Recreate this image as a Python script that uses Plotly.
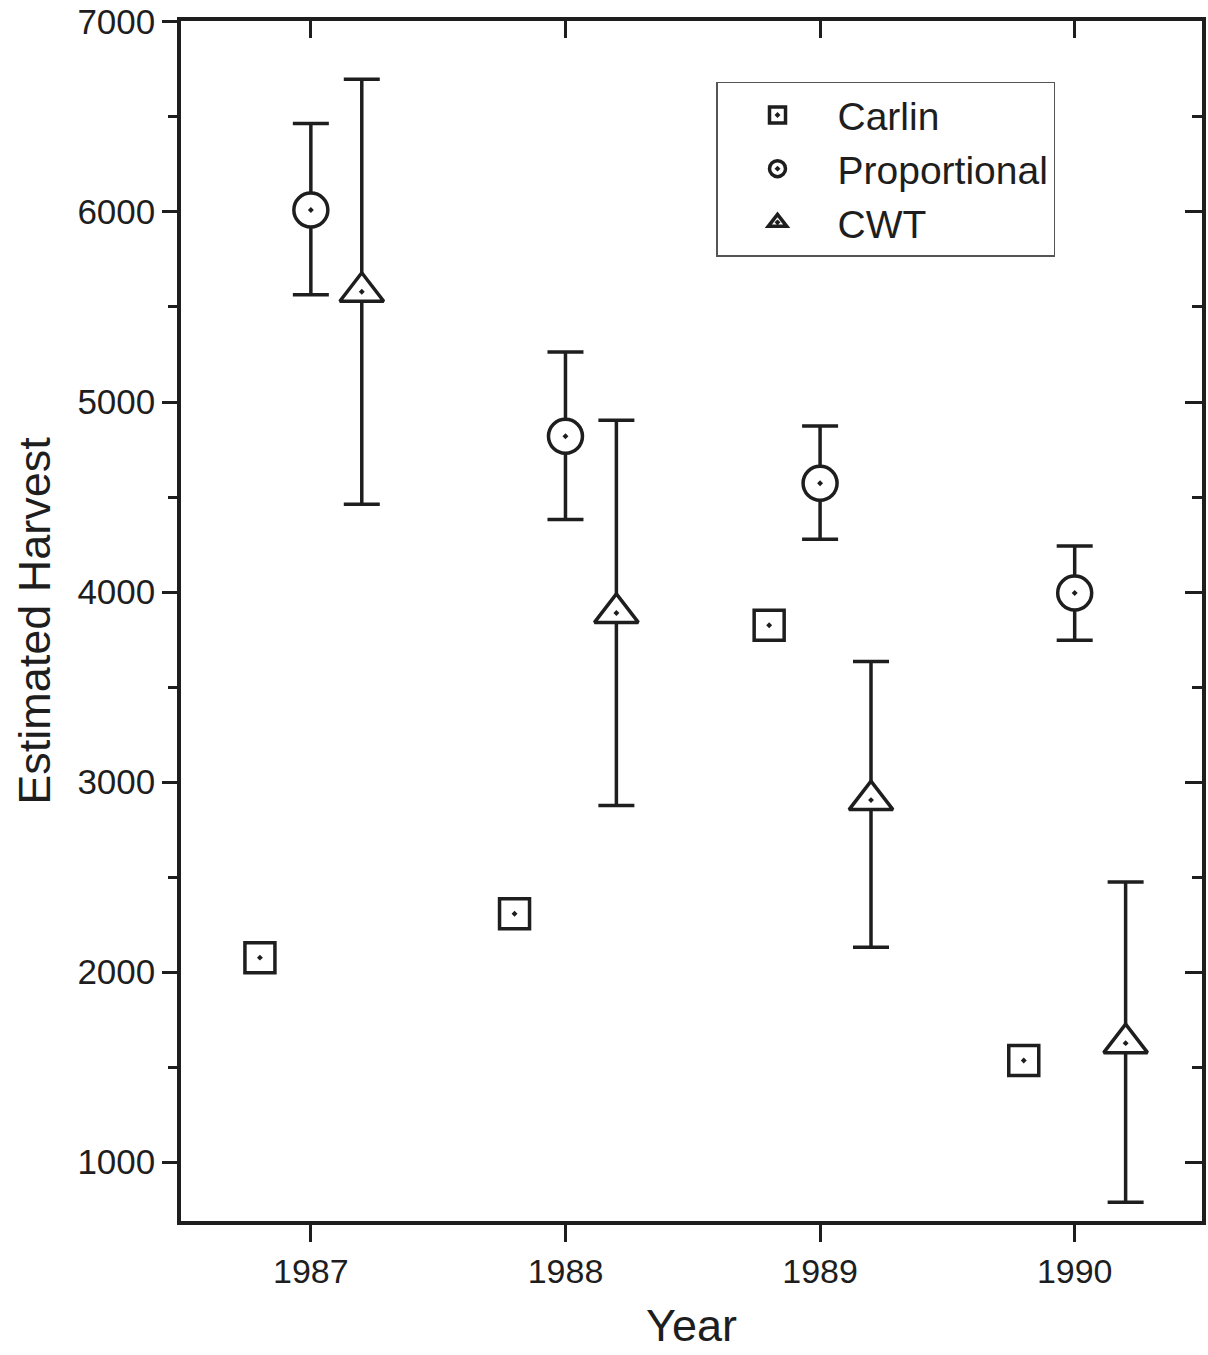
import plotly.graph_objects as go

years = [1987, 1988, 1989, 1990]
offset_carlin = -0.2
offset_cwt = 0.2

carlin = [2076, 2307, 3825, 1535]

proportional = [6010, 4820, 4572, 3995]
prop_upper = [6465, 5263, 4874, 4242]
prop_lower = [5565, 4381, 4278, 3746]

cwt = [5580, 3890, 2905, 1626]
cwt_upper = [6698, 4904, 3635, 2474]
cwt_lower = [4462, 2877, 2131, 789]

xtick_labels = ["1987", "1988", "1989", "1990"]
ytick_vals = [1000, 2000, 3000, 4000, 5000, 6000, 7000]

INK = "#1e1e1e"
FONT = "Liberation Sans, Arial, Helvetica, sans-serif"

fig = go.Figure()

# Carlin drawn on the mirrored (top/right) axes pair, which share the same ranges
fig.add_trace(go.Scatter(
    x=[y + offset_carlin for y in years], y=carlin, mode="markers", name="Carlin",
    xaxis="x2", yaxis="y2",
    marker=dict(symbol="square-dot", size=30, color="white",
                line=dict(color=INK, width=3.5)),
))
fig.add_trace(go.Scatter(
    x=years, y=proportional, mode="markers", name="Proportional",
    marker=dict(symbol="circle-dot", size=34, color="white",
                line=dict(color=INK, width=3.5)),
    error_y=dict(type="data", symmetric=False,
                 array=[u - v for u, v in zip(prop_upper, proportional)],
                 arrayminus=[v - l for v, l in zip(proportional, prop_lower)],
                 color=INK, thickness=3.5, width=18),
))
fig.add_trace(go.Scatter(
    x=[y + offset_cwt for y in years], y=cwt, mode="markers", name="CWT",
    marker=dict(symbol="triangle-up-dot", size=38, color="white",
                line=dict(color=INK, width=3.5)),
    error_y=dict(type="data", symmetric=False,
                 array=[u - v for u, v in zip(cwt_upper, cwt)],
                 arrayminus=[v - l for v, l in zip(cwt, cwt_lower)],
                 color=INK, thickness=3.5, width=18),
))

xrange = [1986.49, 1990.5]
yrange = [690, 7005]

fig.update_layout(
    width=1208, height=1355,
    margin=dict(l=181, r=2, t=21, b=134),
    paper_bgcolor="white", plot_bgcolor="white",
    font=dict(family=FONT, color=INK, size=34),
    showlegend=True,
    legend=dict(
        x=0.524, y=0.9495, xanchor="left", yanchor="top",
        bgcolor="white", bordercolor="#555555", borderwidth=1.5,
        font=dict(size=39, family=FONT, color=INK),
        itemwidth=110,
        traceorder="normal",
    ),
    xaxis=dict(
        range=xrange, tickvals=years, ticktext=xtick_labels,
        ticks="outside", ticklen=17, tickwidth=3, tickcolor=INK,
        showline=True, linewidth=3.5, linecolor=INK, mirror=True,
        showgrid=False, zeroline=False,
        tickfont=dict(size=34, color=INK),
        title=dict(text="Year", font=dict(size=45), standoff=22),
    ),
    yaxis=dict(
        range=yrange, tickvals=ytick_vals,
        ticks="outside", ticklen=15, tickwidth=3, tickcolor=INK,
        minor=dict(dtick=500, tick0=500, ticks="outside", ticklen=9, tickwidth=2.5, tickcolor=INK),
        showline=True, linewidth=3.5, linecolor=INK, mirror=True,
        showgrid=False, zeroline=False,
        tickfont=dict(size=35, color=INK),
        title=dict(text="Estimated Harvest", font=dict(size=45), standoff=14),
    ),
    xaxis2=dict(
        overlaying="x", side="top", anchor="y2", range=xrange, tickvals=years,
        showticklabels=False, ticks="inside", ticklen=17, tickwidth=3, tickcolor=INK,
        showline=False, showgrid=False, zeroline=False,
    ),
    yaxis2=dict(
        overlaying="y", side="right", anchor="x2", range=yrange,
        tickvals=ytick_vals,
        showticklabels=False, ticks="inside", ticklen=17, tickwidth=3, tickcolor=INK,
        minor=dict(dtick=500, tick0=500, ticks="inside", ticklen=10, tickwidth=2.5, tickcolor=INK),
        showline=False, showgrid=False, zeroline=False,
    ),
)

fig.write_html("out.html")
